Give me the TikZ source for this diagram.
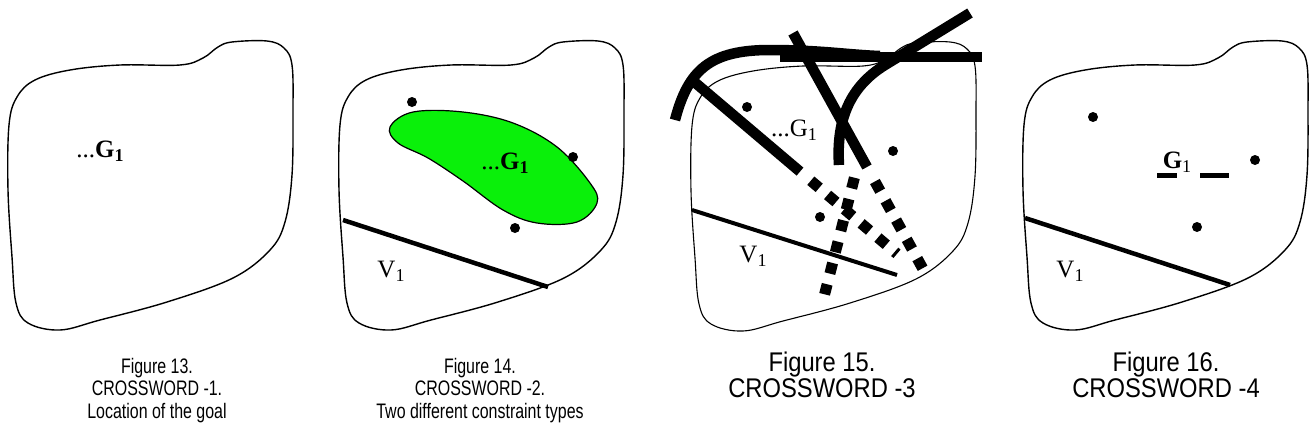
\documentclass[tikz,border=0pt]{standalone}
\usepackage{fontspec}
\setmainfont{Liberation Serif}
\newfontfamily\capfont[FakeStretch=0.76]{Liberation Sans}
\newfontfamily\capfontbig[FakeStretch=0.88]{Liberation Sans}
\newcommand\mysub[1]{\raisebox{-0.35ex}{\fontsize{18}{18}\selectfont #1}}
\definecolor{goalgreen}{RGB}{10,240,10}
\tikzset{
  blob/.pic={
    \draw plot[smooth cycle, tension=0.6] coordinates {
      (8,190) (9,125) (17,97) (35,80) (70,70) (120,65) (180,65) (203,58)
      (218,47) (232,42) (267,41) (284,48) (292,65) (293,110) (292,175)
      (285,222) (270,250) (233,278) (167,302) (100,320) (60,330) (28,323)
      (16,303) (12,257)};
  }
}
\begin{document}
\begin{tikzpicture}[x=1pt,y=-1pt,
  lab/.style={inner sep=0pt, font=\fontsize{25}{25}\selectfont},
  captext/.style={align=center, inner sep=0pt, anchor=north, font=\capfont\fontsize{21}{22.5}\selectfont},
  captextbig/.style={align=center, inner sep=0pt, anchor=north, font=\capfontbig\fontsize{27}{26}\selectfont},
  dot/.style={circle, fill=black, inner sep=0pt, minimum size=10pt},
  vline/.style={line width=4.5pt},
  heavy/.style={line width=10.5pt},
  sq/.style={line width=11pt, dash pattern=on 11pt off 11pt},
  bar/.style={line width=5pt}
]
\useasboundingbox (0,0) rectangle (1311,437);

% ---------- Figure 13 ----------
\pic[line width=1.4pt] at (0,0) {blob};
\node[lab] (g13) at (100,151) {...\textbf{G}\mysub{\textbf{1}}};
\node[captext] (c13) at (157,358) {Figure 13.\\CROSSWORD -1.\\Location of the goal};

% ---------- Figure 14 ----------
\pic[line width=1.4pt] at (331,0) {blob};
\filldraw[fill=goalgreen, draw=black, line width=1.2pt]
  plot[smooth cycle, tension=0.6] coordinates {
   (390,127) (413,112) (463,112) (513,123) (557,147) (590,183) (597,203)
   (577,222) (537,223) (503,210) (463,181) (428,158) (398,143)};
\node[lab] (g14) at (505,163) {...\textbf{G}\mysub{\textbf{1}}};
\node[dot] (d14a) at (412,102) {};
\node[dot] (d14b) at (573,157) {};
\node[dot] (d14c) at (515,228) {};
\coordinate (v14a) at (343,220);
\coordinate (v14b) at (548,287);
\draw[vline] (v14a) -- (v14b);
\node[lab] (v14) at (391,271) {V\mysub{1}};
\node[captext] (c14) at (480,358) {Figure 14.\\CROSSWORD -2.\\Two different constraint types};

% ---------- Figure 15 ----------
\pic[line width=1.1pt] at (683,1) {blob};
\node[dot] (d15a) at (747,107) {};
\node[dot] (d15b) at (893,151) {};
\node[dot] (d15c) at (820,217) {};
\node[lab] (g15) at (794,130) {...G\mysub{1}};
\coordinate (v15a) at (692,210);
\coordinate (v15b) at (897,275);
\draw[line width=4pt] (v15a) -- (v15b);
\node[lab] (v15) at (753,256) {V\mysub{1}};
% heavy curves
\coordinate (arcA) at (675,120);
\coordinate (arcB) at (770,50);
\coordinate (arcC) at (880,56);
\draw[heavy] (arcA) .. controls (688,70) and (710,50) .. (arcB) .. controls (820,50) and (850,55) .. (arcC);
\coordinate (barA) at (780,57);
\coordinate (barB) at (982,57);
\draw[heavy] (barA) -- (barB);
% line a
\coordinate (laA) at (692,80);
\coordinate (laB) at (800,171.6);
\coordinate (laC) at (810.8,180.7);
\coordinate (laD) at (897,253.8);
\draw[heavy] (laA) -- (laB);
\draw[sq] (laC) -- (laD);
% line b
\coordinate (lbA) at (793,33);
\coordinate (lbB) at (867,167);
\coordinate (lbC) at (874.9,181.5);
\coordinate (lbD) at (923,269);
\draw[heavy] (lbA) -- (lbB);
\draw[sq] (lbC) -- (lbD);
% line c
\coordinate (lcA) at (970,13);
\coordinate (lcB) at (885,65);
\coordinate (lcC) at (839,165);
\coordinate (lcD) at (854.4,177.7);
\coordinate (lcE) at (824.6,294.3);
\draw[heavy] (lcA) -- (lcB) .. controls (851,86) and (836,118) .. (lcC);
\draw[sq] (lcD) -- (lcE);
\node[captextbig] (c15) at (822,352) {Figure 15.\\CROSSWORD -3};

% ---------- Figure 16 ----------
\pic[line width=1.4pt] at (1015,0) {blob};
\node[dot] (d16a) at (1093,117) {};
\node[dot] (d16b) at (1255,160) {};
\node[dot] (d16c) at (1197,227) {};
\node[lab] (g16) at (1177,162) {\textbf{G}\mysub{1}};
\coordinate (b16a) at (1157,175);
\coordinate (b16b) at (1177,175);
\coordinate (b16c) at (1200,175);
\coordinate (b16d) at (1229,175);
\draw[bar] (b16a) -- (b16b);
\draw[bar] (b16c) -- (b16d);
\coordinate (v16a) at (1025,218);
\coordinate (v16b) at (1230,285);
\draw[vline] (v16a) -- (v16b);
\node[lab] (v16) at (1070,271) {V\mysub{1}};
\node[captextbig] (c16) at (1166,352) {Figure 16.\\CROSSWORD -4};
\end{tikzpicture}
\end{document}
